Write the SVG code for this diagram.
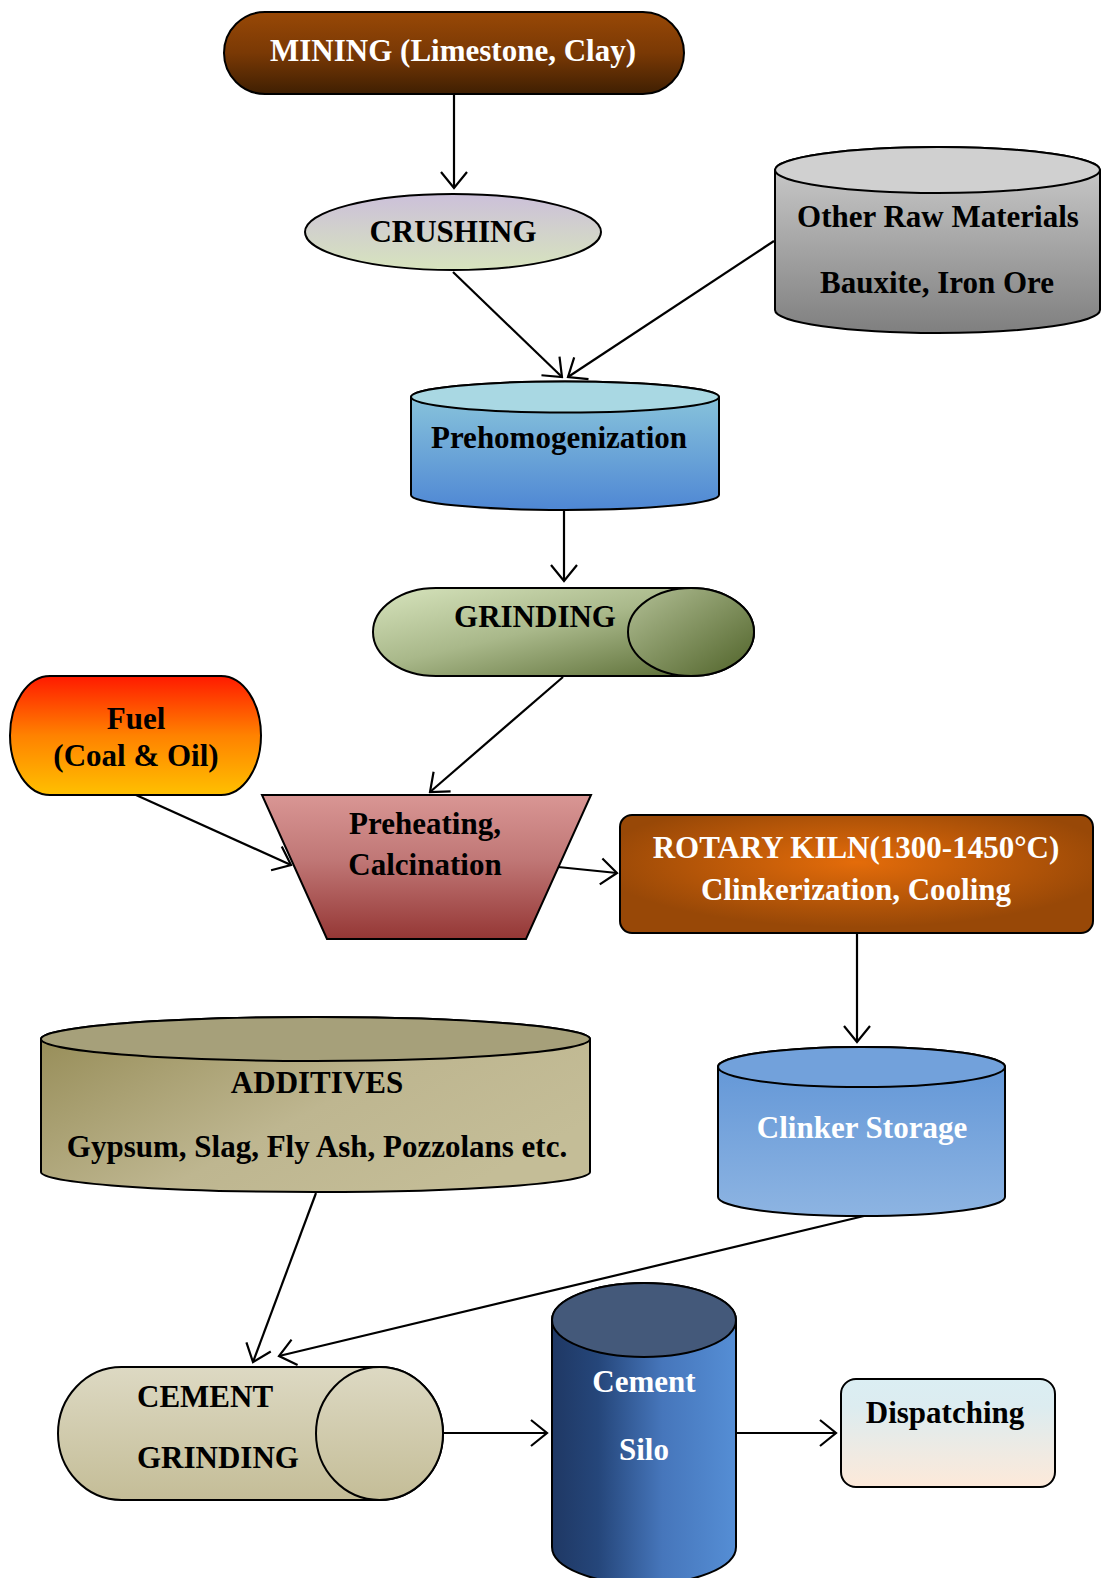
<svg xmlns="http://www.w3.org/2000/svg" width="1102" height="1578" viewBox="0 0 1102 1578">
<style>
.t{font-family:"Liberation Serif","Times New Roman",serif;font-weight:bold;font-size:31px;fill:#000;text-anchor:middle}
.w{fill:#fff}
.s{stroke:#000;stroke-width:2}
.c{fill:none;stroke:#000;stroke-width:2.2}
</style>
<defs>
<marker id="arr" markerUnits="userSpaceOnUse" viewBox="-18 -15 20 30" markerWidth="20" markerHeight="30" refX="0" refY="0" orient="auto">
<path d="M-16,-13 L0,0 L-16,13" fill="none" stroke="#000" stroke-width="2.2"/>
</marker>
<linearGradient id="gMining" x1="0" y1="0" x2="0" y2="1"><stop offset="0" stop-color="#984806"/><stop offset="0.5" stop-color="#7a3905"/><stop offset="1" stop-color="#3f1f02"/></linearGradient>
<linearGradient id="gCrush" x1="0" y1="0" x2="0" y2="1"><stop offset="0" stop-color="#ccc0da"/><stop offset="1" stop-color="#d7e4bd"/></linearGradient>
<linearGradient id="gOther" x1="0" y1="0" x2="0" y2="1"><stop offset="0" stop-color="#d0d0d0"/><stop offset="1" stop-color="#7f7f7f"/></linearGradient>
<linearGradient id="gPre" x1="0" y1="0" x2="0" y2="1"><stop offset="0" stop-color="#8fcbdc"/><stop offset="1" stop-color="#4f87d4"/></linearGradient>
<linearGradient id="gGrind" x1="0" y1="0" x2="1" y2="1"><stop offset="0" stop-color="#d7e4bd"/><stop offset="0.45" stop-color="#a9b88a"/><stop offset="1" stop-color="#4f6228"/></linearGradient>
<linearGradient id="gGrindEnd" x1="0" y1="0" x2="1" y2="1"><stop offset="0" stop-color="#b3c096"/><stop offset="1" stop-color="#4f6228"/></linearGradient>
<linearGradient id="gFuel" x1="0" y1="0" x2="0" y2="1"><stop offset="0" stop-color="#ff1a00"/><stop offset="0.5" stop-color="#ff8200"/><stop offset="1" stop-color="#ffc000"/></linearGradient>
<linearGradient id="gPreheat" x1="0" y1="0" x2="0" y2="1"><stop offset="0" stop-color="#d99694"/><stop offset="0.45" stop-color="#c07776"/><stop offset="1" stop-color="#953735"/></linearGradient>
<radialGradient id="gKiln" cx="0.5" cy="0.4" r="0.55"><stop offset="0" stop-color="#e46c0a"/><stop offset="1" stop-color="#984807"/></radialGradient>
<linearGradient id="gClinker" x1="0" y1="0" x2="0" y2="1"><stop offset="0" stop-color="#5f94d6"/><stop offset="1" stop-color="#8db4e2"/></linearGradient>
<linearGradient id="gAdd" x1="0" y1="0" x2="1" y2="0.6"><stop offset="0" stop-color="#948a54"/><stop offset="0.6" stop-color="#beb690"/><stop offset="1" stop-color="#c4bd97"/></linearGradient>
<linearGradient id="gCG" x1="0" y1="0" x2="0" y2="1"><stop offset="0" stop-color="#ddd9c3"/><stop offset="1" stop-color="#c4bd97"/></linearGradient>
<linearGradient id="gSilo" x1="0" y1="0" x2="1" y2="0"><stop offset="0" stop-color="#1f3864"/><stop offset="0.25" stop-color="#25467a"/><stop offset="0.6" stop-color="#4676bb"/><stop offset="1" stop-color="#558ed5"/></linearGradient>
<linearGradient id="gDisp" x1="0" y1="0" x2="0" y2="1"><stop offset="0" stop-color="#dbeef3"/><stop offset="0.25" stop-color="#dcecf0"/><stop offset="1" stop-color="#fde9d9"/></linearGradient>
</defs>

<g id="connectors" class="c">
<line x1="454" y1="94" x2="454" y2="188" marker-end="url(#arr)"/>
<line x1="453" y1="272" x2="562" y2="377" marker-end="url(#arr)"/>
<line x1="774" y1="241" x2="568" y2="377" marker-end="url(#arr)"/>
<line x1="564" y1="510" x2="564" y2="581" marker-end="url(#arr)"/>
<line x1="563" y1="677" x2="430" y2="792" marker-end="url(#arr)"/>
<line x1="136" y1="795" x2="291" y2="865" marker-end="url(#arr)"/>
<line x1="558" y1="867" x2="617" y2="873" marker-end="url(#arr)"/>
<line x1="857" y1="933" x2="857" y2="1042" marker-end="url(#arr)"/>
<line x1="316" y1="1193" x2="253" y2="1362" marker-end="url(#arr)"/>
<line x1="864" y1="1216" x2="279" y2="1356" marker-end="url(#arr)"/>
<line x1="443" y1="1433" x2="547" y2="1433" marker-end="url(#arr)"/>
<line x1="736" y1="1433" x2="836" y2="1433" marker-end="url(#arr)"/>
</g>

<g id="mining">
<rect x="224" y="12" width="460" height="82" rx="41" ry="41" fill="url(#gMining)" class="s"/>
<text x="453" y="61" class="t w">MINING (Limestone, Clay)</text>
</g>

<g id="crushing">
<ellipse cx="453" cy="232" rx="148" ry="38" fill="url(#gCrush)" class="s"/>
<text x="453" y="242" class="t">CRUSHING</text>
</g>

<g id="other-raw">
<path d="M775,170 L775,310 A162.5,23 0 0 0 1100,310 L1100,170 A162.5,23 0 0 0 775,170 Z" fill="url(#gOther)" class="s"/>
<ellipse cx="937.5" cy="170" rx="162.5" ry="23" fill="#d0d0d0" class="s"/>
<text x="938" y="227" class="t">Other Raw Materials</text>
<text x="937" y="293" class="t">Bauxite, Iron Ore</text>
</g>

<g id="prehomogenization">
<path d="M411,397 L411,495 A154,15 0 0 0 719,495 L719,397 A154,15.5 0 0 0 411,397 Z" fill="url(#gPre)" class="s"/>
<ellipse cx="565" cy="397" rx="154" ry="15.5" fill="#a9d8e3" class="s"/>
<text x="559" y="448" class="t">Prehomogenization</text>
</g>

<g id="grinding">
<path d="M436,588 L691,588 A63,44 0 0 1 691,676 L436,676 A63,44 0 0 1 436,588 Z" fill="url(#gGrind)" class="s"/>
<ellipse cx="691" cy="632" rx="63" ry="44" fill="url(#gGrindEnd)" class="s"/>
<text x="535" y="627" class="t">GRINDING</text>
</g>

<g id="fuel">
<rect x="10" y="676" width="251" height="119" rx="40" ry="59.5" fill="url(#gFuel)" class="s"/>
<text x="136" y="729" class="t">Fuel</text>
<text x="136" y="766" class="t">(Coal &amp; Oil)</text>
</g>

<g id="preheating">
<polygon points="262,795 591,795 526,939 327,939" fill="url(#gPreheat)" class="s"/>
<text x="425" y="834" class="t">Preheating,</text>
<text x="425" y="875" class="t">Calcination</text>
</g>

<g id="rotary-kiln">
<rect x="620" y="815" width="473" height="118" rx="12" ry="12" fill="url(#gKiln)" class="s"/>
<text x="856" y="858" class="t w">ROTARY KILN(1300-1450°C)</text>
<text x="856" y="900" class="t w">Clinkerization, Cooling</text>
</g>

<g id="clinker-storage">
<path d="M718,1067 L718,1197 A143.5,19 0 0 0 1005,1197 L1005,1067 A143.5,20 0 0 0 718,1067 Z" fill="url(#gClinker)" class="s"/>
<ellipse cx="861.5" cy="1067" rx="143.5" ry="20" fill="#72a1db" class="s"/>
<text x="862" y="1138" class="t w">Clinker Storage</text>
</g>

<g id="additives">
<path d="M41,1039 L41,1172 A274.5,20 0 0 0 590,1172 L590,1039 A274.5,22 0 0 0 41,1039 Z" fill="url(#gAdd)" class="s"/>
<ellipse cx="315.5" cy="1039" rx="274.5" ry="22" fill="#a6a07a" class="s"/>
<text x="317" y="1093" class="t">ADDITIVES</text>
<text x="317" y="1157" class="t">Gypsum, Slag, Fly Ash, Pozzolans etc.</text>
</g>

<g id="cement-grinding">
<path d="M121.5,1367 L379.5,1367 A63.5,66.5 0 0 1 379.5,1500 L121.5,1500 A63.5,66.5 0 0 1 121.5,1367 Z" fill="url(#gCG)" class="s"/>
<ellipse cx="379.5" cy="1433.5" rx="63.5" ry="66.5" fill="url(#gCG)" class="s"/>
<text x="137" y="1407" class="t" style="text-anchor:start">CEMENT</text>
<text x="137" y="1468" class="t" style="text-anchor:start">GRINDING</text>
</g>

<g id="cement-silo">
<path d="M552,1320 L552,1547 A92,37 0 0 0 736,1547 L736,1320 A92,37 0 0 0 552,1320 Z" fill="url(#gSilo)" class="s"/>
<ellipse cx="644" cy="1320" rx="92" ry="37" fill="#44597a" class="s"/>
<text x="644" y="1392" class="t w">Cement</text>
<text x="644" y="1460" class="t w">Silo</text>
</g>

<g id="dispatching">
<rect x="841" y="1379" width="214" height="108" rx="15" ry="15" fill="url(#gDisp)" class="s"/>
<text x="945" y="1423" class="t">Dispatching</text>
</g>
</svg>
